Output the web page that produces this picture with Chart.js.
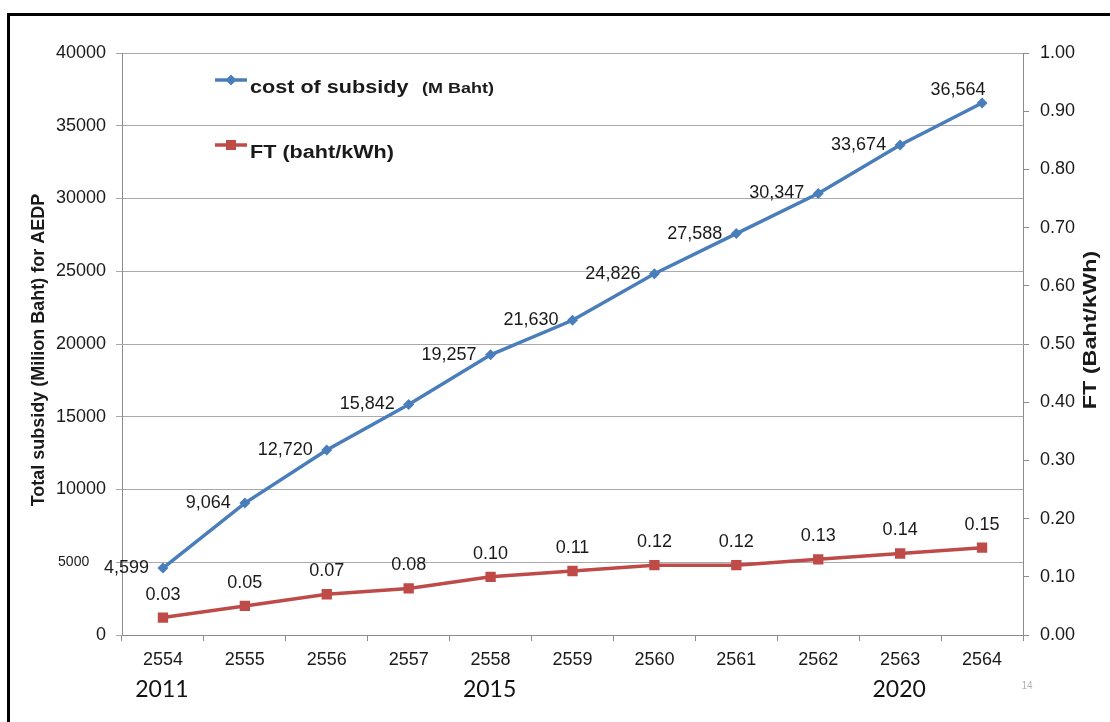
<!DOCTYPE html>
<html>
<head>
<meta charset="utf-8">
<script src="https://cdn.jsdelivr.net/npm/chart.js@4.4.1/dist/chart.umd.min.js"></script>
<style>
  html, body { margin: 0; padding: 0; background: #ffffff; }
  #chart { display: block; }
</style>
</head>
<body>
<canvas id="chart" width="1110" height="722"></canvas>
<script>
// Buddhist-era years on the category axis
const categories = ['2554', '2555', '2556', '2557', '2558', '2559', '2560', '2561', '2562', '2563', '2564'];
// Total subsidy for AEDP, million Baht
const subsidyValues = [4599, 9064, 12720, 15842, 19257, 21630, 24826, 27588, 30347, 33674, 36564];
// FT charge, Baht per kWh
const ftValues = [0.03, 0.05, 0.07, 0.08, 0.10, 0.11, 0.12, 0.12, 0.13, 0.14, 0.15];
// Gregorian year notes placed under selected categories
const yearNotes = ['2011', '2015', '2020'];
const yearNoteAt = ['2554', '2558', '2563'];
const seriesNames = ['cost of subsidy', 'FT (baht/kWh)'];
const seriesUnits = ['(M Baht)', ''];
const leftTitle = 'Total subsidy (Milion Baht) for AEDP';
const rightTitle = 'FT (Baht/kWh)';
const pageNumber = '14';

const FONT = "'Liberation Sans', Arial, sans-serif";
const BLUE = '#4A7EBB';
const RED = '#BE4B48';
const TEXT = '#1a1a1a';
const AXIS = '#8c8c8c';

const fmtThousands = v => v.toLocaleString('en-US');

const decorPlugin = {
  id: 'decor',
  beforeDraw(chart) {
    const ctx = chart.ctx;
    ctx.save();
    ctx.fillStyle = '#ffffff';
    ctx.fillRect(0, 0, chart.width, chart.height);
    // frame edges
    ctx.strokeStyle = '#000000';
    ctx.lineWidth = 3;
    ctx.beginPath();
    ctx.moveTo(8.5, chart.height + 2);
    ctx.lineTo(8.5, 14.5);
    ctx.lineTo(chart.width + 2, 14.5);
    ctx.stroke();
    ctx.restore();
  },
  afterDatasetsDraw(chart) {
    const ctx = chart.ctx;
    ctx.save();
    ctx.font = '18px ' + FONT;
    ctx.fillStyle = TEXT;
    ctx.textBaseline = 'middle';
    // subsidy labels sit left of each point; the last one above-left
    const m0 = chart.getDatasetMeta(0);
    m0.data.forEach((pt, i) => {
      const txt = fmtThousands(subsidyValues[i]);
      if (i === m0.data.length - 1) {
        ctx.textAlign = 'center';
        ctx.fillText(txt, pt.x - 24, pt.y - 13);
      } else {
        ctx.textAlign = 'right';
        ctx.fillText(txt, pt.x - 14, pt.y);
      }
    });
    // FT labels above each point
    const m1 = chart.getDatasetMeta(1);
    ctx.textAlign = 'center';
    m1.data.forEach((pt, i) => {
      ctx.fillText(ftValues[i].toFixed(2), pt.x, pt.y - 23);
    });
    ctx.restore();
  },
  afterDraw(chart) {
    const ctx = chart.ctx;
    const area = chart.chartArea;
    ctx.save();

    // legend inside the plot, top-left
    const rows = [80, 145];
    chart.data.datasets.forEach((ds, i) => {
      const y = rows[i];
      ctx.strokeStyle = ds.borderColor;
      ctx.lineWidth = 3.5;
      ctx.beginPath();
      ctx.moveTo(215, y);
      ctx.lineTo(247, y);
      ctx.stroke();
      ctx.fillStyle = ds.borderColor;
      if (ds.pointStyle === 'rectRot') {
        ctx.beginPath();
        ctx.moveTo(231, y - 5.5);
        ctx.lineTo(236.5, y);
        ctx.lineTo(231, y + 5.5);
        ctx.lineTo(225.5, y);
        ctx.closePath();
        ctx.fill();
      } else {
        ctx.fillRect(226, y - 5, 10, 10);
      }
      ctx.fillStyle = TEXT;
      ctx.textAlign = 'left';
      ctx.textBaseline = 'alphabetic';
      ctx.save();
      ctx.translate(250, y + 13);
      ctx.scale(1.2, 1);
      ctx.font = 'bold 18px ' + FONT;
      ctx.fillText(seriesNames[i], 0, 0);
      ctx.restore();
      if (seriesUnits[i]) {
        ctx.save();
        ctx.translate(422, y + 13);
        ctx.scale(1.2, 1);
        ctx.font = 'bold 15px ' + FONT;
        ctx.fillText(seriesUnits[i], 0, 0);
        ctx.restore();
      }
    });

    // axis titles
    ctx.fillStyle = TEXT;
    ctx.textAlign = 'center';
    ctx.textBaseline = 'middle';
    ctx.save();
    ctx.translate(39, 350);
    ctx.rotate(-Math.PI / 2);
    ctx.font = 'bold 18px ' + FONT;
    ctx.fillText(leftTitle, 0, 0);
    ctx.restore();

    ctx.save();
    ctx.translate(1091, 330);
    ctx.rotate(-Math.PI / 2);
    ctx.scale(1.3, 1);
    ctx.font = 'bold 18px ' + FONT;
    ctx.fillText(rightTitle, 0, 0);
    ctx.restore();

    // Gregorian years under the category labels
    const xs = chart.scales.x;
    ctx.font = "23px Lato, 'Open Sans', sans-serif";
    ctx.fillStyle = '#111111';
    ctx.textBaseline = 'alphabetic';
    yearNotes.forEach((t, i) => {
      const idx = categories.indexOf(yearNoteAt[i]);
      ctx.fillText(t, xs.getPixelForValue(idx) - 1, 697);
    });

    // page number
    ctx.font = '10px ' + FONT;
    ctx.fillStyle = '#b4b4b4';
    ctx.textBaseline = 'middle';
    ctx.fillText(pageNumber, area.right + 4, 686);

    ctx.restore();
  }
};

new Chart(document.getElementById('chart'), {
  type: 'line',
  data: {
    labels: categories,
    datasets: [
      {
        label: seriesNames[0],
        data: subsidyValues,
        yAxisID: 'y',
        borderColor: BLUE,
        backgroundColor: BLUE,
        borderWidth: 3.5,
        pointStyle: 'rectRot',
        pointRadius: 5.5,
        pointBorderWidth: 0,
        pointBackgroundColor: BLUE,
        tension: 0
      },
      {
        label: seriesNames[1],
        data: ftValues,
        yAxisID: 'y1',
        borderColor: RED,
        backgroundColor: RED,
        borderWidth: 3.5,
        pointStyle: 'rect',
        pointRadius: 7.3,
        pointBorderWidth: 0,
        pointBackgroundColor: RED,
        tension: 0
      }
    ]
  },
  options: {
    responsive: false,
    animation: false,
    devicePixelRatio: 1,
    layout: { autoPadding: false, padding: { top: 53, left: 0, right: 0, bottom: 0 } },
    plugins: {
      legend: { display: false },
      tooltip: { enabled: false }
    },
    scales: {
      x: {
        type: 'category',
        offset: true,
        grid: { drawOnChartArea: false, offset: true, tickLength: 6, color: AXIS, lineWidth: 1 },
        border: { color: AXIS, width: 1 },
        ticks: { font: { family: FONT, size: 18 }, color: TEXT, padding: 8, maxRotation: 0 },
        afterFit(s) { s.height = 87; }
      },
      y: {
        position: 'left',
        min: 0,
        max: 40000,
        ticks: {
          stepSize: 5000,
          padding: 10,
          color: TEXT,
          font: ctx => ({ family: FONT, size: ctx.tick && ctx.tick.value === 5000 ? 14 : 18 }),
          callback: v => (v === 5000 ? String(v) + '\u2003\u2009' : String(v))
        },
        grid: { color: '#a9a9a9', lineWidth: 1, tickLength: 6 },
        border: { color: AXIS, width: 1 },
        afterFit(s) { s.width = 122; }
      },
      y1: {
        position: 'right',
        min: 0,
        max: 1,
        ticks: {
          stepSize: 0.1,
          padding: 11,
          color: TEXT,
          font: { family: FONT, size: 18 },
          callback: v => Number(v).toFixed(2)
        },
        grid: { drawOnChartArea: false, color: AXIS, tickLength: 6 },
        border: { color: AXIS, width: 1 },
        afterFit(s) { s.width = 87; }
      }
    }
  },
  plugins: [decorPlugin]
});
</script>
</body>
</html>
